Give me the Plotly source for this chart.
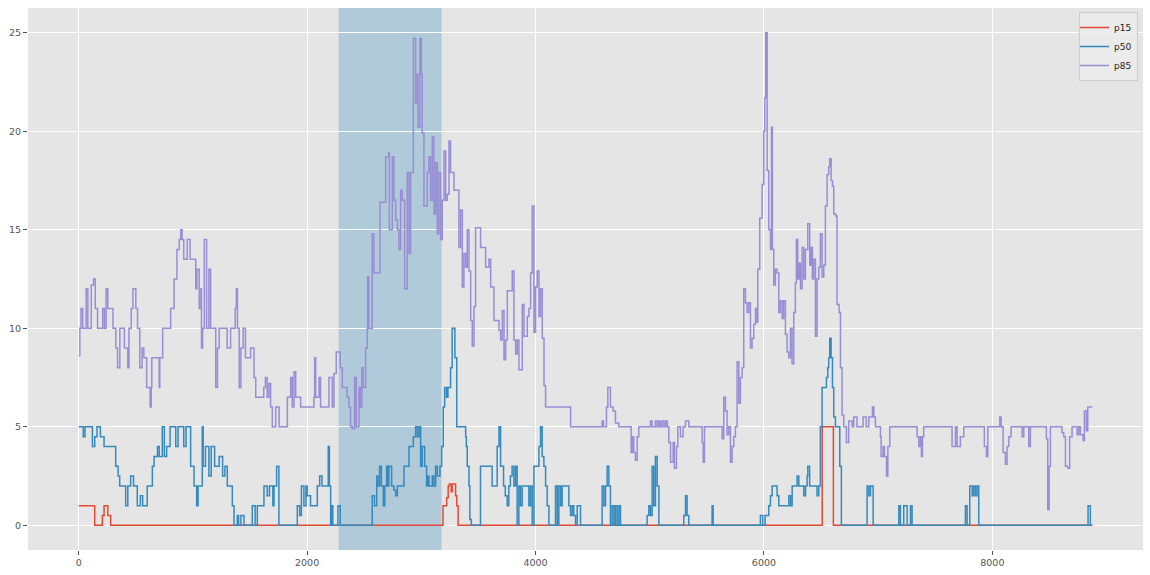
import plotly.graph_objects as go

# ---- data (step breakpoints: sample index, value) ----
N_END = 8875

p15_x = [0, 140, 207, 222, 255, 280, 3190, 3222, 3235, 3245, 3262, 3270, 3300, 3310, 3322, 6510, 6608, N_END]
p15_y = [1, 0, 0.5, 1, 0.5, 0, 1, 1.4, 2, 2.1, 1.7, 2.1, 1.5, 1, 0, 5, 0, 0]

p50_x = [0, 40, 55, 120, 140, 160, 190, 222, 324, 345, 359, 411, 430, 455, 480, 513, 540, 560, 600,
         625, 645, 660, 690, 705, 732, 750, 770, 800, 850, 870, 920, 940, 980, 1010, 1033, 1045, 1082,
         1090, 1110, 1140, 1160, 1190, 1230, 1260, 1280, 1301, 1345, 1360, 1389, 1400, 1420, 1447, 1520,
         1545, 1564, 1622, 1650, 1670, 1700, 1710, 1733, 1753, 1914, 1935, 1950, 1972, 1990, 2000, 2030,
         2089, 2110, 2130, 2185, 2195, 2206, 2215, 2225, 2270, 2290, 2570, 2590, 2610, 2620, 2635, 2650,
         2667, 2680, 2696, 2708, 2716, 2740, 2760, 2775, 2790, 2848, 2892, 2930, 2950, 2965, 2980, 2994,
         3008, 3029, 3046, 3058, 3067, 3096, 3110, 3125, 3140, 3163, 3178, 3192, 3204, 3220, 3233, 3256,
         3270, 3294, 3310, 3375, 3388, 3394, 3402, 3417, 3425, 3438, 3518, 3605, 3620, 3650, 3664, 3680,
         3694, 3720, 3735, 3752, 3766, 3780, 3795, 3810, 3825, 3839, 3854, 3868, 3883, 3927, 3942, 3956,
         3971, 3986, 4015, 4030, 4044, 4058, 4073, 4088, 4102, 4117, 4175, 4190, 4204, 4219, 4233, 4263,
         4292, 4306, 4321, 4335, 4350, 4365, 4394, 4583, 4598, 4613, 4627, 4642, 4656, 4671, 4686, 4700,
         4715, 4730, 4744, 4977, 4992, 5006, 5021, 5035, 5050, 5065, 5080, 5298, 5313, 5327, 5342, 5546,
         5555, 5969, 5990, 6010, 6042, 6057, 6072, 6100, 6115, 6130, 6203, 6218, 6233, 6247, 6290, 6305,
         6334, 6349, 6364, 6378, 6384, 6400, 6465, 6480, 6494, 6509, 6547, 6559, 6567, 6576, 6588, 6600,
         6611, 6626, 6655, 6664, 6678, 6903, 6918, 6933, 6956, 7181, 7195, 7224, 7254, 7283, 7297, 7764,
         7779, 7802, 7823, 7837, 7852, 7866, 7881, 8838, 8858, N_END]
p50_y = [5, 4.5, 5, 4, 4.5, 5, 4.5, 4, 3, 2.5, 2, 1, 2, 2.5, 2, 1, 1.5, 1, 2,
         2, 3, 3.5, 4, 3.5, 5, 3.5, 4, 5, 4, 5, 4, 5, 3, 2, 1, 2, 5,
         3, 4, 2.5, 4, 3, 3.5, 2.5, 3, 2, 1, 0, 0.5, 0, 0.5, 0, 1,
         0, 1, 2, 1.5, 2, 1, 2, 3, 0, 1, 0.5, 2, 1, 2, 1.5, 1,
         2, 2.5, 2, 4, 2, 0, 1, 0, 1, 0, 1.5, 1, 2.5, 2, 3, 2,
         1, 2, 3, 2, 3, 2, 1.8, 1.5, 2, 3, 4, 4.5, 5, 4.5, 5, 3,
         4, 3, 2, 2.5, 2, 2.5, 2, 3, 2.5, 3, 4, 6, 7, 6.5, 7, 8,
         10, 8.5, 5, 5, 4.5, 4, 3, 2, 0.3, 0, 3, 3, 2, 2, 4, 5,
         3, 2, 1.5, 1, 2, 2.5, 3, 2, 3, 0, 2, 1, 2, 2, 1, 2,
         0, 3, 3, 4, 5, 3.5, 3, 2, 1, 0, 2, 0, 2, 1, 2, 2,
         1, 0.5, 1, 0.5, 0, 1, 0, 2, 1, 2, 3, 2, 0, 1, 0, 1,
         0, 1, 0, 0.5, 1, 0.5, 3, 1, 3.5, 2, 0, 0.5, 1.5, 0.5, 0, 1,
         0, 0.5, 0, 0.5, 1, 1.5, 2, 2, 1.5, 1, 1, 1.5, 1, 2, 2.5, 2,
         2, 1.5, 2, 2.5, 3, 2, 1.5, 2, 5, 7, 7.5, 8, 8.5, 9.5, 8.5, 7,
         5.5, 5, 5, 3, 0, 2, 1.5, 2, 0, 1, 0, 1, 0, 1, 0, 1,
         0, 2, 1.5, 2, 1.5, 2, 0, 1, 0, 0]

p85_x = [0, 10, 20, 35, 65, 80, 110, 130, 145, 165, 210, 225, 240, 255, 300, 325, 340, 360, 400, 430,
         440, 460, 475, 500, 515, 535, 555, 570, 595, 625, 635, 640, 705, 710, 735, 805, 835, 860, 880,
         893, 905, 920, 950, 975, 1025, 1035, 1055, 1070, 1075, 1085, 1100, 1120, 1140, 1155, 1200, 1215,
         1230, 1300, 1330, 1370, 1380, 1390, 1405, 1420, 1440, 1460, 1505, 1535, 1550, 1620, 1635, 1650,
         1665, 1680, 1695, 1725, 1755, 1827, 1856, 1870, 1885, 1900, 1943, 2060, 2066, 2075, 2105, 2118,
         2191, 2220, 2235, 2255, 2290, 2308, 2350, 2367, 2380, 2396, 2416, 2430, 2454, 2465, 2480, 2490,
         2512, 2527, 2530, 2540, 2570, 2585, 2630, 2638, 2675, 2688, 2716, 2720, 2746, 2760, 2775, 2790,
         2804, 2819, 2833, 2854, 2877, 2892, 2906, 2930, 2950, 2965, 2971, 2988, 3000, 3008, 3023, 3052,
         3067, 3081, 3096, 3111, 3125, 3140, 3154, 3169, 3183, 3198, 3213, 3227, 3242, 3256, 3286, 3315,
         3329, 3344, 3359, 3373, 3388, 3402, 3417, 3432, 3446, 3461, 3475, 3519, 3563, 3592, 3607, 3636,
         3680, 3694, 3709, 3724, 3738, 3753, 3796, 3811, 3826, 3840, 3855, 3884, 3899, 3928, 3942, 3957,
         3971, 3986, 4000, 4015, 4030, 4044, 4059, 4074, 4088, 4307, 4583, 4595, 4621, 4633, 4656, 4679,
         4700, 4729, 4837, 4849, 4860, 4875, 4890, 4904, 5006, 5021, 5050, 5065, 5080, 5094, 5110, 5125,
         5140, 5154, 5167, 5182, 5205, 5216, 5234, 5246, 5269, 5292, 5313, 5342, 5459, 5468, 5479, 5634,
         5648, 5663, 5677, 5692, 5707, 5721, 5736, 5750, 5765, 5780, 5794, 5809, 5823, 5838, 5852, 5867,
         5882, 5896, 5911, 5926, 5940, 5946, 5963, 5984, 5998, 6007, 6016, 6028, 6042, 6057, 6066, 6074,
         6086, 6100, 6115, 6130, 6144, 6159, 6173, 6188, 6203, 6217, 6232, 6246, 6261, 6275, 6284, 6296,
         6308, 6320, 6334, 6349, 6363, 6384, 6401, 6413, 6424, 6436, 6451, 6465, 6480, 6494, 6509, 6524,
         6538, 6553, 6567, 6576, 6588, 6600, 6611, 6629, 6640, 6658, 6670, 6684, 6699, 6722, 6742, 6772,
         6786, 6815, 6868, 6895, 6918, 6950, 6962, 6976, 7020, 7026, 7043, 7055, 7073, 7085, 7102, 7341,
         7356, 7370, 7379, 7388, 7399, 7647, 7677, 7691, 7720, 7750, 7930, 7948, 7960, 8065, 8077, 8094,
         8114, 8129, 8144, 8164, 8260, 8275, 8319, 8333, 8473, 8485, 8497, 8508, 8610, 8625, 8640, 8660,
         8677, 8698, 8742, 8757, 8771, 8795, 8806, 8823, 8835, N_END]
p85_y = [8.6, 10, 11, 10, 12, 10, 12.2, 12.5, 11, 10, 11, 10, 12, 11, 10, 9, 8, 10, 9, 8,
         10, 11, 12, 11, 10, 8, 9, 8.5, 7, 6, 7, 8.5, 7, 8.5, 10, 11, 12.5, 14, 14.5,
         15, 14.5, 13.5, 14.5, 13.5, 12, 13, 11, 12, 9, 10, 14.5, 10, 13, 10, 7, 9,
         10, 9, 10, 11, 12, 10, 7, 9, 10, 8.5, 9, 7.5, 6.5, 7, 7.5, 6.5,
         7.2, 6, 5, 6, 5, 6.5, 7.5, 6, 7.8, 6.5, 6, 6.5, 8.5, 6.5, 7.5, 6,
         7.5, 6, 7.7, 8.8, 8, 7, 6.5, 6, 5, 4.9, 7.5, 5, 7, 6, 8, 7,
         9, 10, 12.6, 10, 14.8, 12.8, 12.8, 16.4, 16.4, 18.7, 18.9, 15, 18.7, 16.5, 15.5, 15,
         14, 17, 16.5, 12, 17.9, 13.8, 17.9, 24.7, 21.4, 22.9, 20.2, 24.7, 22.9, 19.9, 16.2, 17.9,
         18.7, 16.5, 19.7, 15.8, 18.4, 14.8, 17.9, 14.5, 16.5, 19.0, 16.5, 16.8, 19.5, 17.9, 17, 17,
         14.1, 16, 12.1, 13.8, 13.1, 15, 12.9, 10.4, 9.1, 11.1, 15.1, 14.1, 13.1, 13.5, 12.1, 10.4,
         9.9, 9.4, 10.9, 8.4, 9.4, 11.9, 12.9, 9.4, 8.7, 9.4, 7.9, 11.2, 9.6, 10.6, 11, 12.8,
         16.2, 9.8, 12.1, 12.9, 10.6, 12, 9.5, 7.1, 6, 5, 5.3, 5, 6, 7, 6, 5.8,
         5.2, 5, 3.7, 4.5, 3.7, 3.3, 4.5, 5, 5.3, 5, 5.3, 5, 5.3, 5, 5.3, 5,
         5.3, 5, 4.2, 3.2, 4.2, 2.9, 4, 5, 4.5, 5, 5.3, 5, 4.2, 3.2, 5, 4.4,
         6.5, 5.8, 4.6, 5, 3.2, 4, 4.5, 5, 8.3, 6.2, 7.5, 8, 12, 11.3, 10.8, 11.3,
         9, 9.5, 10.2, 11, 10.3, 13, 15.6, 17.3, 20, 21.7, 25, 18, 15, 14, 20.2, 14,
         12.2, 13, 12.8, 10.8, 11.4, 10.5, 11.4, 9.7, 8.8, 8.5, 10, 8.2, 10.8, 12.3, 14.5, 12.5,
         13.3, 12, 14.1, 12.5, 14, 15.3, 13.2, 14.1, 12.5, 13.5, 9.6, 12.5, 13.1, 14.8, 12.6, 13.2,
         16.2, 17.8, 18.2, 18.6, 17.5, 17.2, 15.8, 15.7, 11.2, 10.8, 8, 5.6, 5, 4.2, 5.3, 5,
         5.5, 5, 5.5, 5, 5.5, 6, 5.5, 5, 4.5, 3.5, 4, 3.5, 2.5, 4, 5, 4.5,
         4, 4.5, 3.5, 4.5, 5, 4, 5, 4, 4.5, 5, 4, 3.5, 5, 5.5, 5, 3.7,
         3.1, 4, 4.5, 5, 4.5, 5, 4, 5, 4.4, 0.8, 3, 5, 4.7, 4.5, 3, 2.9,
         4.5, 5, 4.6, 5, 4.6, 4.3, 5.8, 4.8, 6, 6]

highlight_start = 2276
highlight_end = 3177

series = [("p15", p15_x, p15_y, "#E24A33"),
          ("p50", p50_x, p50_y, "#348ABD"),
          ("p85", p85_x, p85_y, "#988ED5")]

fig = go.Figure()
for name, xs, ys, col in series:
    fig.add_trace(go.Scatter(x=xs, y=ys, name=name, mode="lines",
                             line=dict(color=col, width=1.5, shape="hv")))

fig.add_shape(type="rect", xref="x", yref="paper", x0=highlight_start, x1=highlight_end,
              y0=0, y1=1, fillcolor="#348ABD", opacity=0.3, line_width=0, layer="between")

axis_common = dict(showgrid=True, gridcolor="white", gridwidth=1, zeroline=False,
                   ticks="outside", ticklen=4, tickcolor="#555555", tickwidth=1,
                   tickfont=dict(family="DejaVu Sans", size=9.5, color="#555555"),
                   showline=False)

fig.update_layout(
    width=1150, height=575,
    margin=dict(l=28, r=7, t=8, b=25),
    paper_bgcolor="white", plot_bgcolor="#E5E5E5",
    xaxis=dict(range=[-444, 9319], tickvals=[0, 2000, 4000, 6000, 8000], **axis_common),
    yaxis=dict(range=[-1.25, 26.25], tickvals=[0, 5, 10, 15, 20, 25], **axis_common),
    legend=dict(x=0.9955, y=0.9926, xanchor="right", yanchor="top",
                bgcolor="rgba(235,235,235,0.9)", bordercolor="#cccccc", borderwidth=1,
                font=dict(family="DejaVu Sans", size=9, color="#222222"),
                itemwidth=30, tracegroupgap=0, indentation=-6),
    showlegend=True,
)

fig.write_html("out.html")
